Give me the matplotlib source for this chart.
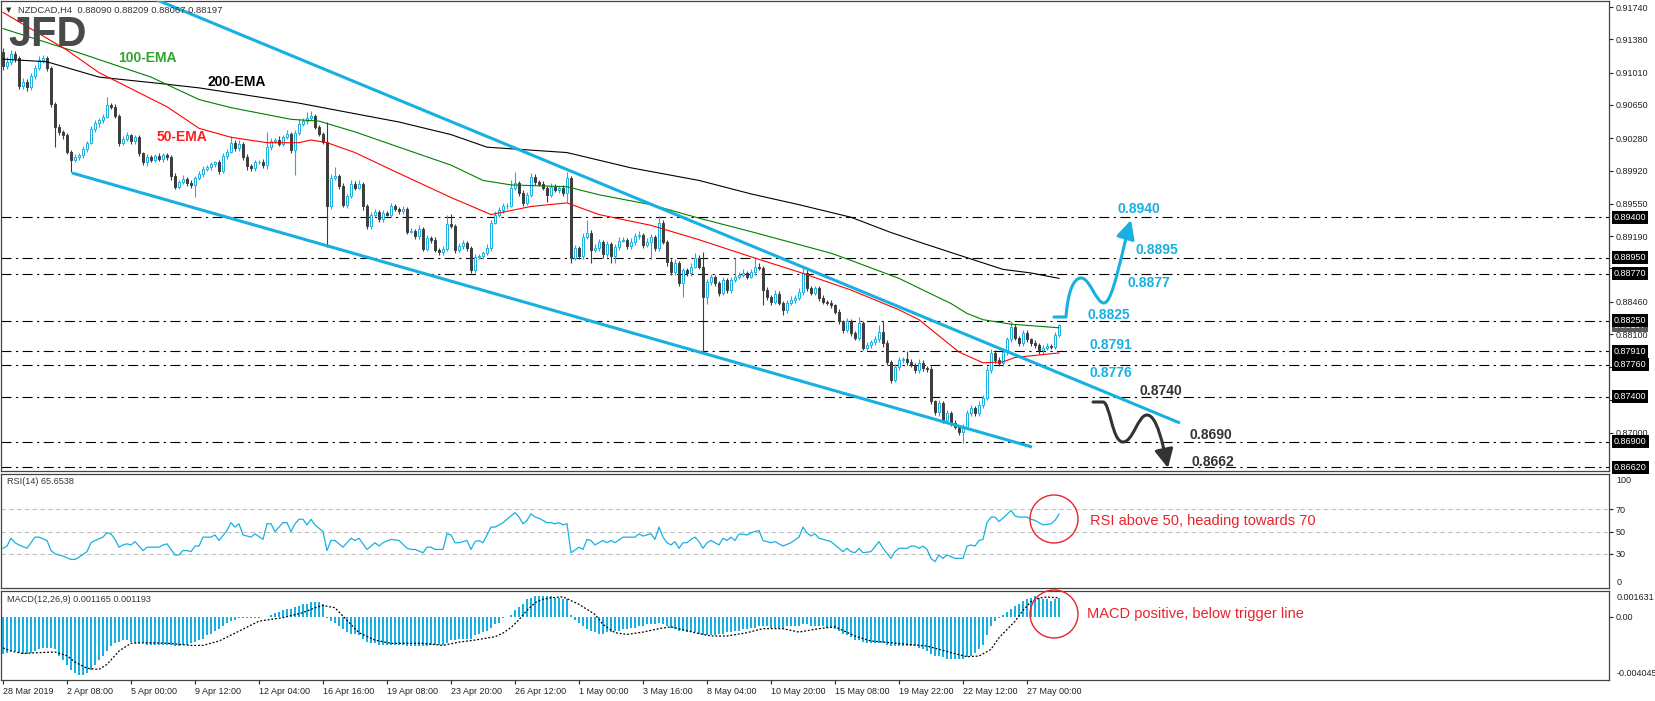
import numpy as np
import matplotlib
matplotlib.use("Agg")
import matplotlib.pyplot as plt
from matplotlib.patches import Circle, FancyArrowPatch
from matplotlib.path import Path
from matplotlib.transforms import blended_transform_factory

plt.rcParams['font.family'] = ['Liberation Sans', 'DejaVu Sans']

CYAN = '#17b0e3'
DARK = '#3d3d3d'
RED = '#e8232d'

# ---------------- data (NZDCAD H4, prices in pips = price * 10000) ----------------
first_open = 9124
close_pips = [
    9108, 9113, 9122, 9117, 9086, 9091, 9085, 9097, 9106, 9115,
    9117, 9106, 9066, 9041, 9035, 9031, 9013, 9004, 9007, 9009,
    9016, 9023, 9038, 9045, 9048, 9052, 9065, 9063, 9053, 9023,
    9027, 9031, 9025, 9029, 9011, 9001, 9007, 9004, 9008, 9005,
    9009, 9007, 8986, 8974, 8979, 8983, 8978, 8976, 8984, 8988,
    8994, 8996, 8999, 9001, 8992, 9008, 9013, 9023, 9017, 9022,
    9007, 8997, 8995, 9001, 9002, 8998, 9018, 9025, 9026, 9022,
    9029, 9033, 9015, 9034, 9044, 9047, 9051, 9053, 9040, 9033,
    9024, 8952, 8984, 8986, 8975, 8954, 8964, 8977, 8973, 8977,
    8952, 8930, 8942, 8946, 8938, 8945, 8943, 8952, 8949, 8947,
    8949, 8924, 8925, 8919, 8927, 8905, 8917, 8915, 8904, 8901,
    8905, 8932, 8930, 8904, 8908, 8911, 8906, 8881, 8896, 8897,
    8900, 8906, 8934, 8943, 8948, 8952, 8953, 8973, 8978, 8967,
    8956, 8965, 8985, 8979, 8977, 8973, 8965, 8974, 8970, 8973,
    8967, 8984, 8895, 8906, 8897, 8918, 8923, 8904, 8906, 8913,
    8899, 8910, 8897, 8907, 8914, 8915, 8908, 8913, 8919, 8920,
    8909, 8913, 8918, 8906, 8934, 8913, 8890, 8879, 8889, 8867,
    8881, 8878, 8885, 8895, 8885, 8851, 8868, 8873, 8867, 8856,
    8870, 8859, 8870, 8874, 8876, 8878, 8874, 8879, 8885, 8884,
    8859, 8851, 8846, 8855, 8845, 8837, 8845, 8848, 8850, 8857,
    8878, 8861, 8856, 8861, 8850, 8846, 8845, 8842, 8835, 8824,
    8815, 8824, 8811, 8806, 8822, 8795, 8798, 8801, 8804, 8812,
    8800, 8779, 8759, 8773, 8781, 8782, 8779, 8776, 8770, 8778,
    8772, 8771, 8735, 8723, 8733, 8714, 8722, 8711, 8707, 8701,
    8707, 8722, 8728, 8722, 8731, 8739, 8770, 8789, 8781, 8778,
    8790, 8804, 8818, 8806, 8800, 8811, 8804, 8800, 8798, 8792,
    8795, 8797, 8796, 8809, 8819.7,
]
upper_wick = [
    4, 5, 4, 3, 2, 4, 3, 3, 4, 5,
    4, 3, 2, 2, 3, 2, 3, 2, 3, 2,
    3, 2, 4, 3, 2, 3, 9, 2, 3, 2,
    3, 4, 2, 3, 3, 2, 3, 2, 2, 3,
    3, 2, 2, 3, 2, 4, 2, 3, 2, 4,
    3, 2, 3, 2, 3, 4, 3, 7, 3, 4,
    2, 3, 2, 3, 2, 3, 17, 3, 2, 4,
    3, 4, 2, 3, 5, 3, 6, 5, 2, 3,
    2, 22, 4, 10, 2, 3, 2, 4, 3, 4,
    2, 3, 4, 3, 2, 3, 2, 4, 3, 2,
    3, 2, 3, 2, 4, 2, 3, 2, 3, 2,
    3, 11, 12, 2, 3, 4, 3, 2, 3, 2,
    3, 4, 3, 4, 3, 4, 3, 9, 12, 2,
    3, 3, 4, 3, 2, 3, 2, 4, 3, 2,
    3, 6, 2, 3, 2, 5, 14, 3, 4, 3,
    2, 4, 3, 3, 4, 3, 2, 4, 3, 5,
    3, 4, 3, 2, 7, 3, 2, 3, 4, 2,
    3, 2, 4, 5, 3, 16, 3, 4, 3, 2,
    3, 2, 4, 21, 3, 4, 2, 3, 10, 4,
    2, 3, 2, 4, 3, 2, 3, 4, 3, 4,
    5, 3, 2, 3, 2, 3, 2, 3, 2, 3,
    2, 4, 3, 2, 7, 3, 3, 2, 4, 8,
    12, 3, 2, 4, 3, 3, 9, 3, 2, 4,
    3, 2, 3, 2, 4, 2, 3, 2, 3, 2,
    3, 4, 3, 2, 4, 3, 4, 4, 3, 3,
    4, 3, 6, 3, 2, 4, 3, 2, 3, 2,
    3, 3, 2, 3, 1,
]
lower_wick = [
    4, 3, 4, 4, 3, 3, 4, 3, 3, 2,
    3, 3, 3, 23, 3, 4, 3, 14, 3, 3,
    3, 3, 2, 3, 4, 3, 2, 3, 3, 4,
    3, 2, 4, 3, 3, 3, 4, 3, 3, 2,
    3, 3, 4, 3, 3, 2, 3, 3, 14, 3,
    3, 2, 3, 3, 4, 3, 3, 2, 3, 3,
    3, 4, 3, 3, 2, 3, 4, 3, 2, 3,
    3, 2, 3, 28, 3, 2, 3, 3, 2, 3,
    3, 45, 3, 2, 3, 3, 4, 3, 3, 2,
    4, 3, 3, 2, 3, 3, 2, 3, 2, 3,
    3, 3, 2, 3, 3, 3, 3, 4, 3, 3,
    3, 3, 2, 4, 3, 3, 3, 3, 3, 3,
    3, 2, 3, 2, 3, 3, 3, 2, 3, 3,
    3, 2, 3, 3, 2, 3, 8, 3, 2, 3,
    3, 10, 6, 3, 4, 3, 2, 15, 3, 3,
    4, 3, 8, 8, 3, 2, 3, 3, 4, 3,
    3, 2, 20, 3, 3, 3, 4, 3, 3, 3,
    16, 3, 3, 2, 3, 61, 7, 3, 3, 4,
    3, 3, 3, 2, 3, 3, 3, 2, 3, 3,
    17, 3, 4, 3, 3, 6, 3, 3, 3, 2,
    3, 3, 3, 3, 3, 2, 3, 3, 3, 3,
    4, 3, 3, 3, 3, 3, 3, 3, 3, 3,
    4, 3, 3, 2, 3, 3, 3, 3, 3, 3,
    3, 3, 3, 3, 4, 3, 3, 3, 3, 3,
    12, 3, 3, 3, 3, 3, 2, 3, 3, 3,
    3, 3, 3, 3, 3, 3, 3, 3, 3, 4,
    4, 3, 3, 3, 2,
]

ema50_points = [
    (0, 0.9168), (16, 0.9126), (24, 0.9101), (41, 0.9063), (49, 0.9039), (57, 0.9029),
    (66, 0.9023), (74, 0.9023), (77, 0.9026), (81, 0.9023), (88, 0.9012), (97, 0.8993),
    (112, 0.8962), (122, 0.8943), (132, 0.8952), (141, 0.8956), (149, 0.8943),
    (162, 0.8931), (174, 0.8915), (187, 0.8896), (199, 0.8879), (212, 0.8859),
    (224, 0.8837), (229, 0.8826), (239, 0.8790), (245, 0.8778), (250, 0.8779),
    (253, 0.8784), (264, 0.8789),
]
ema100_points = [
    (0, 0.9150), (19, 0.9123), (37, 0.9096), (49, 0.9071), (57, 0.9062), (72, 0.9049),
    (79, 0.9047), (88, 0.9035), (99, 0.9018), (112, 0.8998), (120, 0.8981), (127, 0.8976),
    (141, 0.8974), (149, 0.8965), (162, 0.8954), (174, 0.8939), (187, 0.8924),
    (207, 0.8900), (212, 0.8892), (224, 0.8872), (230, 0.8859), (237, 0.8844),
    (241, 0.8833), (245, 0.8826), (252, 0.8821), (264, 0.8817),
]
ema200_points = [
    (0, 0.9116), (11, 0.9113), (24, 0.9096), (39, 0.9089), (49, 0.9084), (74, 0.9067),
    (99, 0.9046), (112, 0.9032), (121, 0.9018), (141, 0.9012), (157, 0.8995),
    (174, 0.8981), (187, 0.8966), (199, 0.8954), (212, 0.8940), (222, 0.8923),
    (230, 0.8911), (241, 0.8895), (250, 0.8882), (257, 0.8878), (264, 0.8872),
]

channel_upper = [(38.5, 0.91818), (294.25, 0.87110)]
channel_lower = [(17.25, 0.89893), (257.25, 0.86843)]

levels = [0.8940, 0.8895, 0.8877, 0.8825, 0.8791, 0.8776, 0.8740, 0.8690, 0.8662]
price_ticks = [0.9174, 0.9138, 0.9101, 0.9065, 0.9028, 0.8992, 0.8955, 0.8919,
               0.8883, 0.8846, 0.8810, 0.8773, 0.8737, 0.8700]
# tick labels that sit under a level box in the reference
covered_ticks = [0.8883, 0.8773, 0.8737]

rsi_points = [
    (0, 35), (1, 37), (2, 44), (3, 40), (4, 38), (6, 35), (8, 45), (9, 45), (11, 42),
    (12, 33), (13, 30), (15, 28), (17, 25), (18, 25), (19, 27), (21, 32), (22, 40),
    (23, 42), (25, 45), (26, 49), (27, 48), (28, 43), (29, 36), (30, 38), (31, 39),
    (32, 38), (33, 41), (35, 33), (36, 36), (38, 36), (39, 36), (40, 38), (41, 39),
    (43, 29), (44, 29), (45, 33), (46, 33), (47, 32), (48, 37), (49, 37), (50, 45),
    (52, 45), (53, 47), (54, 42), (56, 51), (57, 58), (58, 54), (59, 57), (60, 47),
    (61, 46), (62, 45), (63, 48), (65, 43), (66, 57), (67, 57), (68, 50), (70, 58),
    (71, 58), (72, 50), (73, 57), (74, 61), (75, 61), (76, 56), (77, 61), (78, 56),
    (79, 53), (80, 50), (81, 33), (82, 42), (83, 42), (85, 36), (87, 44), (88, 42),
    (89, 44), (91, 34), (93, 40), (94, 37), (95, 40), (97, 43), (99, 42), (101, 35),
    (102, 34), (103, 34), (105, 31), (106, 36), (107, 36), (108, 34), (110, 34),
    (111, 48), (112, 47), (113, 40), (114, 40), (116, 42), (117, 34), (118, 41),
    (119, 42), (120, 40), (122, 54), (123, 54), (125, 58), (127, 64), (128, 67),
    (129, 63), (130, 57), (131, 60), (132, 66), (133, 63), (134, 62), (136, 58),
    (137, 58), (138, 57), (139, 58), (140, 56), (141, 57), (142, 31), (144, 36),
    (145, 34), (146, 43), (147, 42), (148, 38), (150, 42), (151, 40), (152, 42),
    (153, 40), (155, 45), (156, 45), (158, 45), (159, 48), (160, 46), (162, 48),
    (163, 43), (164, 54), (165, 45), (166, 40), (167, 38), (168, 41), (169, 35),
    (170, 40), (171, 40), (172, 43), (173, 45), (174, 41), (175, 35), (176, 40),
    (177, 42), (179, 38), (180, 44), (181, 42), (182, 45), (183, 42), (184, 48),
    (186, 47), (187, 49), (189, 51), (190, 42), (192, 40), (193, 41), (194, 39),
    (195, 37), (197, 40), (199, 45), (200, 54), (201, 49), (202, 46), (203, 48),
    (204, 44), (206, 42), (207, 41), (209, 35), (210, 32), (211, 35), (212, 32),
    (213, 31), (214, 35), (215, 31), (217, 32), (219, 41), (220, 35), (222, 26),
    (223, 32), (224, 35), (226, 35), (227, 37), (228, 37), (229, 35), (230, 37),
    (231, 34), (232, 26), (233, 23), (234, 29), (235, 26), (236, 29), (238, 26),
    (239, 26), (240, 26), (241, 37), (242, 38), (243, 37), (244, 42), (245, 43),
    (246, 58), (247, 63), (248, 63), (249, 59), (250, 62), (252, 69), (253, 64),
    (254, 63), (256, 63), (257, 61), (258, 60), (259, 58), (260, 56), (262, 57),
    (263, 60), (264, 65.6538),
]

# MACD histogram (x 1e-4)
macd_hist = [
    -24, -23, -22, -22, -23, -24, -24, -23, -22, -21,
    -20, -20, -20, -21, -25, -28, -31, -34, -36, -37,
    -37, -36, -34, -31, -28, -25, -22, -19, -17, -16,
    -15, -15, -16, -17, -17, -17, -18, -18, -18, -18,
    -18, -18, -18, -19, -19, -18, -18, -17, -16, -15,
    -14, -12, -11, -9, -8, -6, -4, -3, -2, -1,
    -1, -1, -1, -1, -1, 0, 0, 1, 2, 3,
    4, 5, 5, 6, 7, 8, 8, 9, 9, 9,
    8, -1, -3, -4, -6, -8, -10, -11, -11, -12,
    -14, -16, -17, -17, -18, -18, -18, -18, -18, -18,
    -18, -19, -19, -19, -19, -19, -19, -18, -18, -18,
    -18, -17, -15, -15, -14, -14, -14, -14, -12, -11,
    -10, -9, -7, -5, -4, -1, 0, 1, 4, 6,
    8, 11, 12, 13, 13, 13, 13, 13, 12, 12,
    11, 11, 1, -2, -4, -6, -8, -9, -10, -11,
    -11, -10, -10, -9, -9, -8, -8, -7, -7, -6,
    -6, -5, -5, -5, -4, -5, -6, -7, -8, -9,
    -9, -10, -10, -10, -11, -12, -12, -12, -12, -11,
    -11, -10, -10, -9, -9, -8, -8, -7, -7, -6,
    -6, -6, -7, -7, -7, -7, -6, -6, -6, -6,
    -5, -5, -6, -6, -6, -6, -7, -7, -8, -9,
    -11, -12, -13, -15, -15, -16, -17, -17, -17, -17,
    -17, -18, -19, -19, -19, -19, -19, -19, -19, -20,
    -21, -22, -24, -25, -25, -26, -27, -27, -27, -27,
    -27, -26, -25, -23, -21, -18, -12, -6, -3, -1,
    1, 3, 5, 7, 8, 10, 11, 12, 13, 12,
    11, 11, 10, 11, 11.65,
]
signal_points = [
    (0, -20), (2, -22), (5, -23.5), (9, -23), (13, -22.6), (16, -25), (18, -29),
    (21, -33), (24, -33.7), (26, -30.5), (29, -22), (32, -17), (36, -16.7), (41, -17),
    (47, -18.4), (50, -18.4), (54, -15.6), (59, -9.3), (64, -2.9), (70, -0.7),
    (75, 2.5), (78, 5.6), (80, 7.1), (83, 5.6), (85, 0.3), (89, -10.3), (93, -15),
    (97, -17.1), (105, -17.1), (110, -18.4), (114, -16.3), (118, -15), (123, -12.9),
    (125, -10.5), (127, -7), (129, -2), (131, 4), (133, 8.8), (135, 11), (137, 12),
    (140, 12.6), (144, 7.8), (148, 1.4), (150, -5), (153, -10.3), (156, -11.4),
    (160, -9.9), (164, -7.7), (167, -6.5), (173, -10.3), (177, -12.4), (181, -12.4),
    (186, -10.3), (190, -7.7), (195, -7.7), (199, -9.9), (204, -7.7), (208, -6.5),
    (213, -12.4), (217, -15.6), (222, -16.7), (226, -17.7), (231, -18.8), (237, -23),
    (241, -25.6), (244, -25.2), (247, -20.9), (249, -13.5), (253, -3), (255, 4),
    (257, 9.5), (259, 11.8), (261, 12.5), (264, 11.93),
]

date_labels = ['28 Mar 2019', '2 Apr 08:00', '5 Apr 00:00', '9 Apr 12:00', '12 Apr 04:00',
               '16 Apr 16:00', '19 Apr 08:00', '23 Apr 20:00', '26 Apr 12:00', '1 May 00:00',
               '3 May 16:00', '8 May 04:00', '10 May 20:00', '15 May 08:00', '19 May 22:00',
               '22 May 12:00', '27 May 00:00']

# ---------------- derived arrays ----------------
closes = np.array(close_pips) / 1e4
opens = np.concatenate([[first_open / 1e4], closes[:-1]])
highs = np.maximum(opens, closes) + np.array(upper_wick) / 1e4
lows = np.minimum(opens, closes) - np.array(lower_wick) / 1e4
bars = np.arange(len(closes))
up = closes >= opens
body_lo = np.minimum(opens, closes)
body_h = np.maximum(np.abs(closes - opens), 0.00005)

fig = plt.figure(figsize=(16.55, 7.01), dpi=100)
fig.patch.set_facecolor('white')

ax = fig.add_axes([0.0006, 0.3281, 0.9716, 0.6705])
ax_rsi = fig.add_axes([0.0006, 0.1612, 0.9716, 0.1626])
ax_macd = fig.add_axes([0.0006, 0.0300, 0.9716, 0.1269])

for a in (ax, ax_rsi, ax_macd):
    a.set_xlim(-0.5, 401.5)
    for s in a.spines.values():
        s.set_color('#444444')
        s.set_linewidth(0.9)
    a.yaxis.tick_right()
    a.tick_params(axis='y', length=3, width=0.8, pad=1.5, labelsize=6.5, colors='#222222')

# ---------------- main price panel ----------------
ax.set_ylim(0.86576, 0.91807)
ax.set_xticks([])
ax.set_yticks(price_ticks)
ax.set_yticklabels(['' if t in covered_ticks else f'{t:.5f}' for t in price_ticks])

for lv in levels:
    ax.axhline(lv, color='black', lw=0.8, ls=(0, (9, 4, 2, 4)), zorder=2)

ax.vlines(bars[up], lows[up], highs[up], color=CYAN, lw=0.8, zorder=3)
ax.vlines(bars[~up], lows[~up], highs[~up], color=DARK, lw=0.8, zorder=3)
ax.bar(bars[up], body_h[up], bottom=body_lo[up], width=0.55, color='white',
       edgecolor=CYAN, linewidth=0.7, zorder=4)
ax.bar(bars[~up], body_h[~up], bottom=body_lo[~up], width=0.55, color=DARK,
       edgecolor=DARK, linewidth=0.7, zorder=4)

for pts, col in ((ema200_points, 'black'), (ema100_points, '#008000'), (ema50_points, '#ff0000')):
    xs, ys = zip(*pts)
    ax.plot(xs, ys, color=col, lw=0.8, zorder=5)

for line in (channel_upper, channel_lower):
    xs, ys = zip(*line)
    ax.plot(xs, ys, color=CYAN, lw=2.2, solid_capstyle='butt', zorder=6)

trans = blended_transform_factory(ax.transAxes, ax.transData)
ax.text(1.0031, closes[-1], f'{closes[-1]:.5f}', transform=trans, ha='left', va='center',
        color='white', fontsize=6.5, clip_on=False, zorder=7,
        bbox=dict(boxstyle='square,pad=0.22', fc='#5a5a5a', ec='none'))
for lv in levels:
    ax.text(1.0031, lv, f'{lv:.5f}', transform=trans, ha='left', va='center',
            color='white', fontsize=6.5, clip_on=False, zorder=8,
            bbox=dict(boxstyle='square,pad=0.22', fc='black', ec='none'))

# ---------------- RSI panel ----------------
rb, rv = zip(*rsi_points)
ax_rsi.set_ylim(-0.6, 101.6)
ax_rsi.set_xticks([])
for lv in (30, 50, 70):
    ax_rsi.axhline(lv, color='#c0c0c0', lw=0.8, ls=(0, (4, 3)), zorder=1)
ax_rsi.plot(rb, rv, color=CYAN, lw=0.9, zorder=3)
ax_rsi.set_yticks([30, 50, 70])
rtrans = blended_transform_factory(ax_rsi.transAxes, ax_rsi.transData)
ax_rsi.text(1.0045, 96, '100', transform=rtrans, ha='left', va='center', fontsize=6.5,
            color='#222222', clip_on=False)
ax_rsi.text(1.0045, 4.5, '0', transform=rtrans, ha='left', va='center', fontsize=6.5,
            color='#222222', clip_on=False)
ax_rsi.text(0.0038, 0.93, 'RSI(14) 65.6538', transform=ax_rsi.transAxes, ha='left',
            va='center', fontsize=6.6, color='#333333')

# ---------------- MACD panel ----------------
hist = np.array(macd_hist) / 1e4
sb, sv = zip(*signal_points)
ax_macd.set_ylim(-0.004045, 0.001631)
ax_macd.bar(bars, hist, width=0.45, color=CYAN, zorder=2)
ax_macd.plot(sb, np.array(sv) / 1e4, color='black', lw=0.9, ls=(0, (1.5, 1.5)), zorder=3)
ax_macd.set_yticks([0.0])
ax_macd.set_yticklabels(['0.00'])
mtrans = blended_transform_factory(ax_macd.transAxes, ax_macd.transData)
ax_macd.text(1.0045, 0.001204, '0.001631', transform=mtrans, ha='left', va='center',
             fontsize=6.5, color='#222222', clip_on=False)
ax_macd.text(1.0045, -0.003618, '-0.004045', transform=mtrans, ha='left', va='center',
             fontsize=6.5, color='#222222', clip_on=False)
ax_macd.text(0.0038, 0.91, 'MACD(12,26,9) 0.001165 0.001193', transform=ax_macd.transAxes,
             ha='left', va='center', fontsize=6.6, color='#333333')
ax_macd.set_xticks(np.arange(len(date_labels)) * 16)
ax_macd.set_xticklabels(date_labels, ha='left')
ax_macd.tick_params(axis='x', length=3, width=0.8, pad=2, labelsize=6.5, colors='#222222')

# ---------------- annotations (pixel overlay) ----------------
ov = fig.add_axes([0, 0, 1, 1], zorder=20)
ov.set_xlim(0, 1655)
ov.set_ylim(701, 0)
ov.axis('off')

ov.text(6, 10, '▼', fontsize=5, color='#333333', ha='left', va='center',
        family=['DejaVu Sans'])
ov.text(18, 10, 'NZDCAD,H4  0.88090 0.88209 0.88067 0.88197', fontsize=6.8,
        color='#333333', ha='left', va='center')
ov.text(8, 35, 'JFD', fontsize=30, fontweight='bold', color='#4a4a4a', ha='left',
        va='center')

ema_labels = [('100-EMA', 118, 58, '#2fa52f'), ('200-EMA', 208, 82, 'black'),
              ('50-EMA', 157, 137, '#ff1c1c')]
for txt, x, y, col in ema_labels:
    ov.text(x, y, txt, fontsize=10, fontweight='bold', color=col, ha='left', va='center')

label_pos = [(1118, 209), (1135, 250), (1127, 283), (1087, 315), (1089, 345),
             (1090, 373), (1139, 391), (1190, 435), (1191, 462)]
for lv, (x, y) in zip(levels, label_pos):
    col = CYAN if lv > 0.876 else '#333333'
    ov.text(x, y, f'{lv:.4f}', fontsize=10, fontweight='bold', color=col,
            ha='left', va='center')

C4 = Path.CURVE4
up_path = Path([(1054, 317), (1066, 317), (1068, 290), (1074, 278), (1081, 278),
                (1090, 278), (1096, 303), (1104, 303), (1113, 303), (1122, 250), (1131, 220)],
               [Path.MOVETO, Path.LINETO, C4, C4, C4, C4, C4, C4, C4, C4, C4])
dn_path = Path([(1093, 402), (1103, 402), (1110, 402), (1112, 442), (1123, 442),
                (1133, 442), (1138, 415), (1147, 415), (1157, 415), (1163, 445), (1168, 468)],
               [Path.MOVETO, Path.LINETO, C4, C4, C4, C4, C4, C4, C4, C4, C4])
for pth, col in ((up_path, CYAN), (dn_path, '#333333')):
    ov.add_patch(FancyArrowPatch(path=pth, arrowstyle='-|>,head_length=0.7,head_width=0.35',
                                 mutation_scale=16, color=col, lw=2.2))

ov.add_patch(Circle((1054, 519), 24, fill=False, ec=RED, lw=1.0))
ov.add_patch(Circle((1054, 614), 24, fill=False, ec=RED, lw=1.0))
ov.text(1090, 521, 'RSI above 50, heading towards 70', fontsize=10.5, color=RED,
        ha='left', va='center')
ov.text(1087, 614, 'MACD positive, below trigger line', fontsize=10.5, color=RED,
        ha='left', va='center')

fig.savefig('out.png', dpi=100, facecolor='white')
